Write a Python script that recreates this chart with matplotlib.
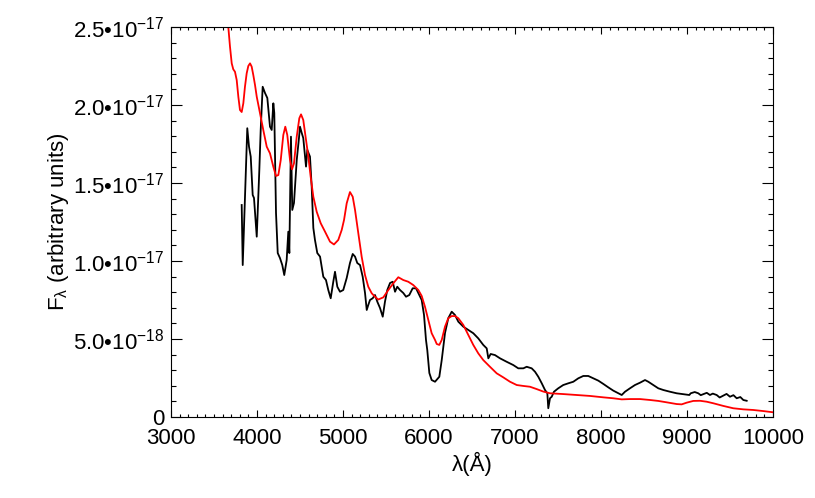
import matplotlib
matplotlib.use('Agg')
import matplotlib.pyplot as plt
from matplotlib.ticker import MultipleLocator, FixedLocator
import numpy as np

plt.rcParams['font.family'] = ['Liberation Sans', 'DejaVu Sans']
plt.rcParams['mathtext.fontset'] = 'custom'
plt.rcParams['mathtext.rm'] = 'Liberation Sans'
plt.rcParams['mathtext.it'] = 'Liberation Sans'
plt.rcParams['mathtext.bf'] = 'Liberation Sans:bold'

FLUX_UNIT = 1e-17

# Observed spectrum (black)
obs_wave = [3822, 3834, 3887, 3907, 3927, 3950, 3965, 3997, 4027, 4043, 4066, 4093,
            4120, 4151, 4171, 4190, 4201, 4221, 4241, 4267, 4294, 4317, 4345, 4364,
            4376, 4395, 4410, 4430, 4462, 4488, 4500, 4520, 4538, 4570, 4585, 4616,
            4636, 4655, 4674, 4701, 4733, 4771, 4802, 4829, 4857, 4887, 4907, 4934,
            4965, 5003, 5043, 5081, 5113, 5140, 5166, 5198, 5229, 5256, 5276, 5294,
            5314, 5345, 5372, 5399, 5430, 5462, 5488, 5515, 5547, 5578, 5605, 5631,
            5663, 5701, 5733, 5771, 5810, 5849, 5887, 5915, 5942, 5965, 5980, 6004,
            6031, 6070, 6120, 6148, 6186, 6224, 6264, 6302, 6341, 6399, 6457, 6515,
            6573, 6631, 6671, 6690, 6717, 6767, 6826, 6903, 6980, 7038, 7097, 7136,
            7194, 7233, 7271, 7311, 7349, 7376, 7387, 7407, 7427, 7453, 7503, 7561,
            7620, 7678, 7736, 7794, 7852, 7910, 7969, 8027, 8085, 8143, 8201, 8241,
            8279, 8337, 8395, 8454, 8512, 8550, 8608, 8666, 8725, 8802, 8880, 8957,
            9027, 9043, 9090, 9131, 9160, 9189, 9230, 9267, 9300, 9345, 9380, 9422,
            9460, 9500, 9540, 9578, 9620, 9655, 9694]
obs_flux = [1.359, 0.974, 1.851, 1.733, 1.669, 1.423, 1.404, 1.156, 1.583, 1.840, 2.117, 2.077,
            2.045, 1.861, 1.840, 2.011, 1.949, 1.308, 1.051, 1.019, 0.974, 0.910, 1.006, 1.188,
            1.051, 1.797, 1.327, 1.372, 1.647, 1.788, 1.861, 1.821, 1.788, 1.605, 1.712, 1.669,
            1.476, 1.212, 1.135, 1.051, 1.028, 0.899, 0.878, 0.814, 0.761, 0.867, 0.931, 0.835,
            0.803, 0.814, 0.891, 0.987, 1.045, 1.028, 0.987, 0.974, 0.899, 0.795, 0.686, 0.718,
            0.750, 0.761, 0.782, 0.739, 0.699, 0.643, 0.739, 0.814, 0.859, 0.867, 0.803, 0.835,
            0.814, 0.795, 0.771, 0.782, 0.825, 0.825, 0.782, 0.750, 0.654, 0.494, 0.429, 0.282,
            0.237, 0.226, 0.258, 0.365, 0.538, 0.633, 0.675, 0.654, 0.611, 0.579, 0.558, 0.537,
            0.504, 0.462, 0.440, 0.376, 0.404, 0.397, 0.376, 0.354, 0.333, 0.312, 0.312, 0.322,
            0.312, 0.290, 0.258, 0.216, 0.173, 0.152, 0.056, 0.120, 0.130, 0.162, 0.184, 0.205,
            0.216, 0.226, 0.248, 0.263, 0.263, 0.248, 0.233, 0.212, 0.190, 0.169, 0.152, 0.141,
            0.162, 0.184, 0.205, 0.220, 0.237, 0.226, 0.205, 0.184, 0.173, 0.162, 0.152, 0.146,
            0.141, 0.152, 0.160, 0.152, 0.140, 0.146, 0.155, 0.141, 0.150, 0.141, 0.125, 0.137,
            0.148, 0.130, 0.140, 0.120, 0.128, 0.109, 0.104]

# Model spectrum (red)
model_wave = [3640, 3666, 3686, 3706, 3724, 3744, 3764, 3783, 3802, 3822, 3841, 3860,
              3880, 3899, 3919, 3938, 3957, 3977, 3997, 4035, 4073, 4113, 4151, 4190,
              4221, 4248, 4276, 4306, 4329, 4352, 4384, 4407, 4430, 4462, 4492, 4512,
              4538, 4570, 4597, 4624, 4655, 4694, 4741, 4791, 4849, 4895, 4945, 4985,
              5012, 5043, 5081, 5113, 5140, 5178, 5217, 5256, 5294, 5334, 5372, 5410,
              5469, 5527, 5585, 5643, 5701, 5759, 5817, 5876, 5915, 5953, 5992, 6031,
              6070, 6090, 6120, 6148, 6186, 6224, 6264, 6302, 6341, 6399, 6457, 6515,
              6573, 6631, 6709, 6787, 6864, 6942, 7020, 7097, 7174, 7252, 7329, 7407,
              7561, 7717, 7872, 8027, 8143, 8241, 8337, 8454, 8570, 8666, 8764, 8880,
              8938, 8997, 9073, 9151, 9229, 9306, 9422, 9538, 9655, 9771, 9887, 10005]
model_flux = [2.65, 2.502, 2.374, 2.267, 2.229, 2.213, 2.160, 2.053, 1.968, 1.955, 2.011, 2.117,
              2.203, 2.250, 2.267, 2.246, 2.192, 2.128, 2.053, 1.947, 1.840, 1.733, 1.690, 1.604,
              1.545, 1.551, 1.647, 1.808, 1.861, 1.808, 1.647, 1.588, 1.626, 1.797, 1.915, 1.940,
              1.904, 1.776, 1.669, 1.540, 1.412, 1.316, 1.242, 1.188, 1.124, 1.106, 1.135, 1.199,
              1.263, 1.370, 1.442, 1.412, 1.327, 1.178, 1.028, 0.910, 0.835, 0.793, 0.771, 0.753,
              0.767, 0.814, 0.857, 0.896, 0.878, 0.867, 0.846, 0.814, 0.776, 0.707, 0.622, 0.537,
              0.494, 0.468, 0.462, 0.494, 0.579, 0.633, 0.647, 0.647, 0.633, 0.590, 0.526, 0.462,
              0.408, 0.365, 0.322, 0.280, 0.254, 0.226, 0.205, 0.199, 0.194, 0.179, 0.163, 0.152,
              0.147, 0.141, 0.135, 0.126, 0.120, 0.113, 0.115, 0.115, 0.109, 0.103, 0.094, 0.083,
              0.081, 0.092, 0.103, 0.104, 0.098, 0.088, 0.071, 0.056, 0.049, 0.045, 0.038, 0.030]

xtick_values = [3000, 4000, 5000, 6000, 7000, 8000, 9000, 10000]
xtick_labels = ['3000', '4000', '5000', '6000', '7000', '8000', '9000', '10000']
ytick_values = [0, 5e-18, 1.0e-17, 1.5e-17, 2.0e-17, 2.5e-17]
ytick_labels = ['0', '5.0•10$^{-18}$', '1.0•10$^{-17}$', '1.5•10$^{-17}$',
                '2.0•10$^{-17}$', '2.5•10$^{-17}$']

fig = plt.figure(figsize=(8.15, 4.98), dpi=100)
ax = fig.add_axes([171 / 815, 81 / 498, 602 / 815, 390 / 498])

ax.plot(obs_wave, np.array(obs_flux) * FLUX_UNIT, color='black', lw=1.3,
        solid_joinstyle='round')
ax.plot(model_wave, np.array(model_flux) * FLUX_UNIT, color='#ff0000', lw=1.3,
        solid_joinstyle='round')

ax.set_xlim(3000, 10000)
ax.set_ylim(0, 2.5e-17)

ax.xaxis.set_major_locator(FixedLocator(xtick_values))
ax.set_xticklabels(xtick_labels)
ax.xaxis.set_minor_locator(MultipleLocator(100))
ax.yaxis.set_major_locator(FixedLocator(ytick_values))
ax.set_yticklabels(ytick_labels)
ax.yaxis.set_minor_locator(MultipleLocator(1e-18))

ax.tick_params(which='both', direction='in', top=True, right=True, width=0.8,
               labelsize=16, colors='black')
ax.xaxis.set_tick_params(which='major', length=5, pad=8)
ax.xaxis.set_tick_params(which='minor', length=2.5)
ax.yaxis.set_tick_params(which='major', length=8, pad=5)
ax.yaxis.set_tick_params(which='minor', length=3.6)

for s in ax.spines.values():
    s.set_linewidth(0.8)

ax.set_xlabel('λ(Å)', fontsize=16, labelpad=2)
ax.set_ylabel(r'F$_{\lambda}$ (arbitrary units)', fontsize=16, labelpad=1)

fig.savefig('out.png', dpi=100)
